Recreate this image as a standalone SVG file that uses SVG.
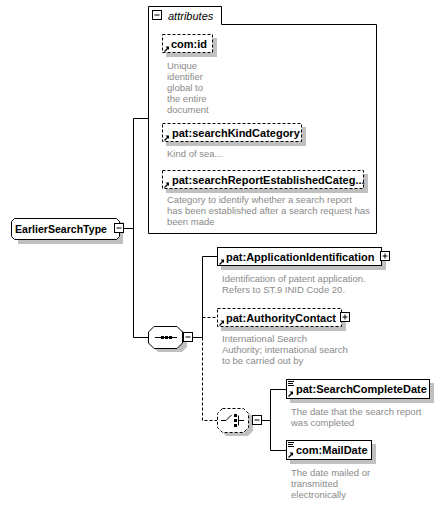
<svg xmlns="http://www.w3.org/2000/svg" width="445" height="505" viewBox="0 0 445 505">
<style>
.box{fill:#fff;stroke:#000;stroke-width:1}
.dbox{fill:#fff;stroke:#000;stroke-width:1;stroke-dasharray:3,2}
.shadow{fill:#c0c0c0}
.name{font-family:"Liberation Sans",Arial,sans-serif;font-weight:bold;font-size:11px;fill:#000}
.desc{font-family:"Liberation Sans",Arial,sans-serif;font-size:9.5px;fill:#8a8a8a}
.ln{stroke:#000;stroke-width:1;fill:none}
.dash{stroke-dasharray:3,2}
.btn{fill:#fff;stroke:#000;stroke-width:1}
</style>
<defs>
<g id="ref"><path d="M0.5,5.5 L4,2" stroke="#000" stroke-width="1.2"/><path d="M5,0.5 L5,4 L1.5,0.5 Z" fill="#000"/></g>
<g id="simple"><path d="M0,0.5 H6 M0,2.5 H5 M0,4.5 H6" stroke="#000" stroke-width="1"/></g>
<g id="minus"><rect class="btn" x="0.5" y="0.5" width="9" height="9"/><path d="M2.5,5 H7.5" stroke="#000"/></g>
<g id="plus"><rect class="btn" x="0.5" y="0.5" width="9" height="9"/><path d="M2.5,5 H7.5 M5,2.5 V7.5" stroke="#000"/></g>
</defs>
<rect width="445" height="505" fill="#fff"/>

<g id="connectors">
<path class="ln" d="M124,228.5 H133.5 M133.5,118.5 V337.5 M133.5,118.5 H148 M133.5,337.5 H148"/>
<path class="ln" d="M192,337.5 H202.5 M202.5,256.5 V337.5 M202.5,256.5 H217"/>
<path class="ln dash" d="M202.5,337.5 V420.5 H217 M202.5,317.5 H217"/>
<path class="ln" d="M261,420.5 H270.5 M270.5,389.5 V450.5 M270.5,389.5 H286 M270.5,450.5 H286"/>
</g>

<g id="attributes">
<path class="box" d="M148.5,6.5 H221.5 V24.5 H376.5 V233.5 H148.5 Z"/>
<use href="#minus" x="152" y="10"/>
<text x="168" y="20" font-family="Liberation Sans,Arial,sans-serif" font-style="italic" font-size="11px">attributes</text>
</g>

<g id="com-id">
<rect class="shadow" x="166" y="38" width="51" height="19"/>
<rect class="dbox" x="162.5" y="34.5" width="50" height="18"/>
<use href="#ref" x="164" y="46"/>
<text class="name" x="171" y="48">com:id</text>
<text class="desc" x="167"><tspan x="167" y="69">Unique</tspan><tspan x="167" y="80">identifier</tspan><tspan x="167" y="91">global to</tspan><tspan x="167" y="102">the entire</tspan><tspan x="167" y="113">document</tspan></text>
</g>

<g id="searchKindCategory">
<rect class="shadow" x="166" y="127" width="140" height="19"/>
<rect class="dbox" x="162.5" y="123.5" width="139" height="18"/>
<use href="#ref" x="164" y="135"/>
<text class="name" x="172" y="137">pat:searchKindCategory</text>
<text class="desc" x="167" y="157">Kind of sea...</text>
</g>

<g id="searchReportEstablishedCategory">
<rect class="shadow" x="166" y="174" width="202" height="19"/>
<rect class="dbox" x="162.5" y="170.5" width="201" height="18"/>
<use href="#ref" x="164" y="182"/>
<text class="name" x="172" y="184">pat:searchReportEstablishedCateg...</text>
<text class="desc"><tspan x="167" y="203">Category to identify whether a search report</tspan><tspan x="167" y="214">has been established after a search request has</tspan><tspan x="167" y="225">been made</tspan></text>
</g>

<g id="EarlierSearchType">
<path class="shadow" d="M18,222 H123 V244 H18 Z"/>
<path class="box" d="M14.5,218.5 H116.5 L119.5,221.5 V236.5 L116.5,239.5 H14.5 L11.5,236.5 V221.5 Z"/>
<text class="name" x="15" y="233" textLength="92" lengthAdjust="spacingAndGlyphs">EarlierSearchType</text>
<use href="#minus" x="114" y="223"/>
</g>

<g id="sequence">
<path class="shadow" d="M158,330 H182 L187,335 V347 L182,352 H158 L153,347 V335 Z"/>
<path class="box" d="M154,326.5 H177 L182.5,332 V343 L177,348.5 H154 L148.5,343 V332 Z"/>
<path class="ln" d="M155,337.5 H177"/>
<rect x="161" y="336" width="3" height="3" fill="#000"/>
<rect x="165" y="336" width="3" height="3" fill="#000"/>
<rect x="169" y="336" width="3" height="3" fill="#000"/>
<use href="#minus" x="183" y="332"/>
</g>

<g id="ApplicationIdentification">
<rect class="shadow" x="221" y="251" width="165" height="19"/>
<rect class="box" x="217.5" y="247.5" width="164" height="18"/>
<use href="#ref" x="219" y="259"/>
<text class="name" x="226" y="261">pat:ApplicationIdentification</text>
<use href="#plus" x="380" y="251"/>
<text class="desc"><tspan x="222" y="282">Identification of patent application.</tspan><tspan x="222" y="293">Refers to ST.9 INID Code 20.</tspan></text>
</g>

<g id="AuthorityContact">
<rect class="shadow" x="221" y="312" width="125" height="19"/>
<rect class="dbox" x="217.5" y="308.5" width="124" height="18"/>
<use href="#ref" x="219" y="320"/>
<text class="name" x="226" y="322">pat:AuthorityContact</text>
<use href="#plus" x="340" y="312"/>
<text class="desc"><tspan x="222" y="342">International Search</tspan><tspan x="222" y="353">Authority; international search</tspan><tspan x="222" y="364">to be carried out by</tspan></text>
</g>

<g id="choice">
<path class="shadow" d="M226,412 H248 L253,417 V431 L248,436 H226 L221,431 V417 Z"/>
<path class="dbox" d="M222.5,408.5 H243.5 L248.5,413.5 V427.5 L243.5,432.5 H222.5 L217.5,427.5 V413.5 Z"/>
<path class="ln" d="M221,420.5 H226 L231.5,415 M238.5,420.5 H244 M238.5,415.5 V425.5"/>
<rect x="234" y="414" width="3" height="3" fill="#000"/>
<rect x="234" y="419" width="3" height="3" fill="#000"/>
<rect x="234" y="424" width="3" height="3" fill="#000"/>
<use href="#minus" x="252" y="415"/>
</g>

<g id="SearchCompleteDate">
<rect class="shadow" x="290" y="383" width="144" height="20"/>
<rect class="box" x="286.5" y="379.5" width="143" height="19"/>
<use href="#simple" x="288" y="381"/>
<use href="#ref" x="288" y="391"/>
<text class="name" x="296" y="393">pat:SearchCompleteDate</text>
<text class="desc"><tspan x="291" y="415">The date that the search report</tspan><tspan x="291" y="426">was completed</tspan></text>
</g>

<g id="MailDate">
<rect class="shadow" x="290" y="444" width="86" height="20"/>
<rect class="box" x="286.5" y="440.5" width="85" height="19"/>
<use href="#simple" x="288" y="442"/>
<use href="#ref" x="288" y="452"/>
<text class="name" x="296" y="454">com:MailDate</text>
<text class="desc"><tspan x="291" y="476">The date mailed or</tspan><tspan x="291" y="487">transmitted</tspan><tspan x="291" y="498">electronically</tspan></text>
</g>
</svg>
